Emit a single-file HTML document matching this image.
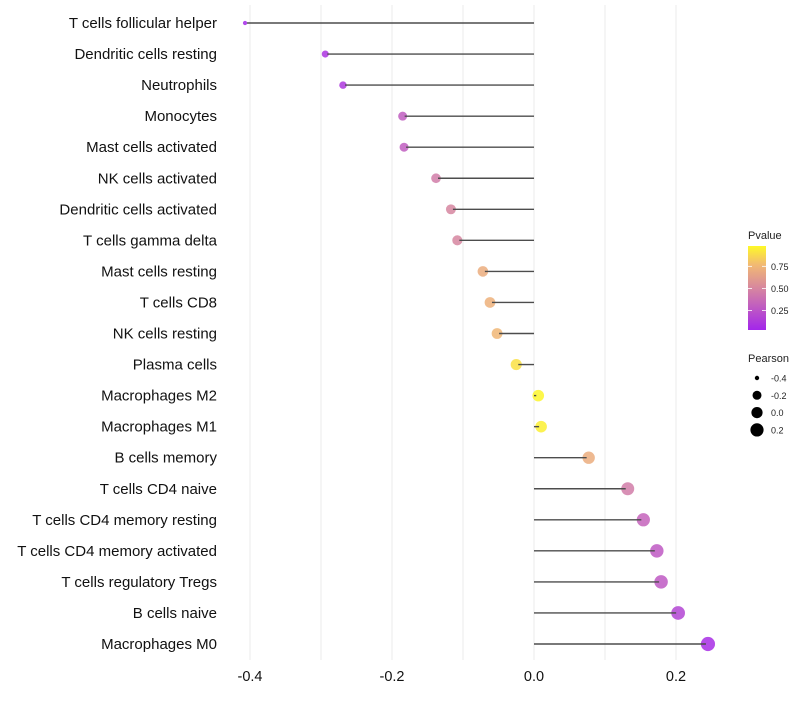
<!DOCTYPE html>
<html><head><meta charset="utf-8"><style>
body{margin:0;background:#fff;font-family:"Liberation Sans",sans-serif}
</style></head><body>
<svg id="chart" width="800" height="700" xmlns="http://www.w3.org/2000/svg" font-family="Liberation Sans, sans-serif"></svg>
<script>
const categories=["T cells follicular helper","Dendritic cells resting","Neutrophils","Monocytes","Mast cells activated","NK cells activated","Dendritic cells activated","T cells gamma delta","Mast cells resting","T cells CD8","NK cells resting","Plasma cells","Macrophages M2","Macrophages M1","B cells memory","T cells CD4 naive","T cells CD4 memory resting","T cells CD4 memory activated","T cells regulatory  Tregs ","B cells naive","Macrophages M0"];
const pearson=[-0.407,-0.294,-0.269,-0.185,-0.183,-0.138,-0.117,-0.108,-0.072,-0.062,-0.052,-0.025,0.006,0.010,0.077,0.132,0.154,0.173,0.179,0.203,0.245];
const pvalues=[0.05,0.1,0.12,0.3,0.3,0.45,0.5,0.5,0.7,0.72,0.75,0.9,0.97,0.95,0.7,0.45,0.33,0.28,0.28,0.18,0.07];
const xTicks=[-0.4,-0.2,0.0,0.2];
const xTickLabels=["-0.4","-0.2","0.0","0.2"];
const pTicks=[0.25,0.5,0.75];
const pTickLabels=["0.25","0.50","0.75"];
const sizeLegend=[-0.4,-0.2,0.0,0.2];
const sizeLegendLabels=["-0.4","-0.2","0.0","0.2"];

const svg=document.getElementById('chart');
const NS="http://www.w3.org/2000/svg";
function mk(t,a,p){const e=document.createElementNS(NS,t);for(const k in a)e.setAttribute(k,a[k]);(p||svg).appendChild(e);return e;}
const x=v=>534+v*710;
const y=i=>23+i*31.05;
const r=v=>Math.sqrt(Math.max(3,5+70*(v+0.4)));
const stops=[[0,[160,32,240]],[0.5,[214,134,160]],[0.78,[243,188,112]],[1,[255,255,32]]];
function col(p){p=Math.max(0,Math.min(1,p));for(let i=1;i<stops.length;i++){if(p<=stops[i][0]){const a=stops[i-1],b=stops[i],t=(p-a[0])/(b[0]-a[0]);const c=a[1].map((v,k)=>Math.round(v+(b[1][k]-v)*t));return `rgb(${c})`;}}return 'rgb(255,255,32)';}

for(let v=-0.4;v<=0.251;v+=0.1){
  const g=mk('line',{x1:x(v),x2:x(v),y1:5,y2:660,stroke:'#ebebeb','stroke-width':1});
  
  
}
xTicks.forEach((v,i)=>{
  const t=mk('text',{x:x(v),y:681,'text-anchor':'middle','font-size':14.5,fill:'#111'});
  t.textContent=xTickLabels[i];
  
  
});
categories.forEach((c,i)=>{
  const t=mk('text',{x:217,y:y(i)+5,'text-anchor':'end','font-size':15,fill:'#111'});
  t.textContent=c;
  t.setAttribute('xml:space','preserve');
  
  
  const d=mk('circle',{cx:x(pearson[i]),cy:y(i),r:r(pearson[i]),fill:col(pvalues[i]),'fill-opacity':0.85});
  
  
  const l=mk('line',{x1:x(0),x2:x(pearson[i])-(pearson[i]>0?2:-2),y1:y(i),y2:y(i),stroke:'#4d4d4d','stroke-width':1.4});
  
  
});
const lt=mk('text',{x:748,y:239,'font-size':11,fill:'#222'});lt.textContent='Pvalue';


const defs=mk('defs',{});
const gr=mk('linearGradient',{id:'pg',x1:0,y1:1,x2:0,y2:0},defs);
[0,0.25,0.5,0.65,0.78,0.9,1].forEach(s=>mk('stop',{offset:s,'stop-color':col(0.03+s*0.95)},gr));
const cb=mk('rect',{x:748,y:246,width:18,height:84,fill:'url(#pg)'});


const pY=p=>330-(p-0.03)/0.95*84;
pTicks.forEach((p,i)=>{
  mk('line',{x1:748,x2:752,y1:pY(p),y2:pY(p),stroke:'#fff','stroke-width':0.8});
  mk('line',{x1:762,x2:766,y1:pY(p),y2:pY(p),stroke:'#fff','stroke-width':0.8});
  const t=mk('text',{x:771,y:pY(p)+3.5,'font-size':9,fill:'#222'});t.textContent=pTickLabels[i];
  
  
});
const st=mk('text',{x:748,y:362,'font-size':11,fill:'#222'});st.textContent='Pearson';


const legR=[2.2,4.5,5.6,6.6];
sizeLegend.forEach((v,i)=>{
  const cy=378+i*17.3;
  const c=mk('circle',{cx:757,cy:cy,r:legR[i],fill:'#000'});
  
  
  const t=mk('text',{x:771,y:cy+3.5,'font-size':9,fill:'#222'});t.textContent=sizeLegendLabels[i];
  
  
});
</script>
</body></html>
